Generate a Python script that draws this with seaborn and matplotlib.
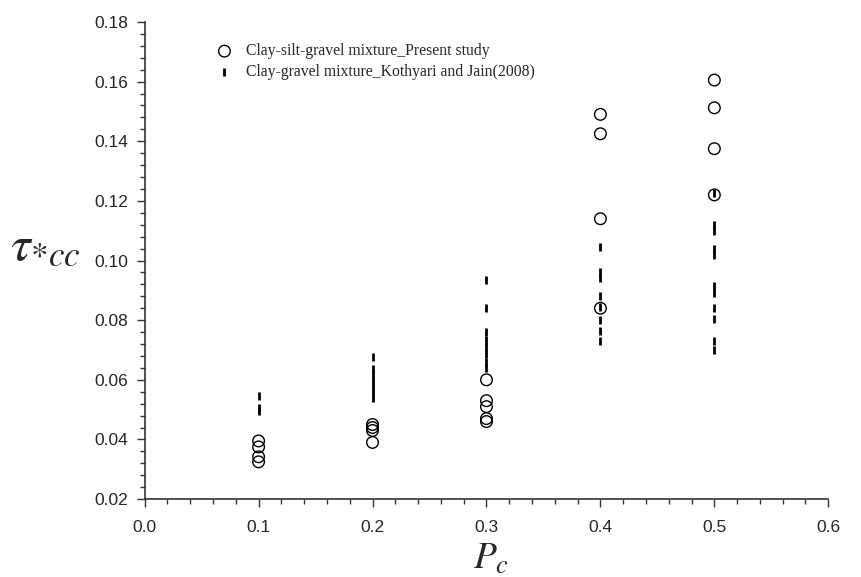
import matplotlib
matplotlib.use("Agg")
import matplotlib.pyplot as plt
import seaborn as sns
import pandas as pd
from matplotlib.ticker import MultipleLocator, FormatStrFormatter

# Critical shear stress of cohesive mixtures versus clay content
present_pc = [0.1, 0.1, 0.1, 0.1,
              0.2, 0.2, 0.2, 0.2,
              0.3, 0.3, 0.3, 0.3, 0.3,
              0.4, 0.4, 0.4, 0.4,
              0.5, 0.5, 0.5, 0.5]
present_tau = [0.0395, 0.0375, 0.0342, 0.0325,
               0.0450, 0.0440, 0.0430, 0.0390,
               0.0600, 0.0530, 0.0510, 0.0470, 0.0460,
               0.1490, 0.1425, 0.1140, 0.0840,
               0.1605, 0.1512, 0.1375, 0.1220]

kj_pc = [0.1, 0.1, 0.1,
         0.2, 0.2, 0.2, 0.2, 0.2, 0.2, 0.2,
         0.3, 0.3, 0.3, 0.3, 0.3, 0.3, 0.3, 0.3,
         0.4, 0.4, 0.4, 0.4, 0.4, 0.4, 0.4, 0.4,
         0.5, 0.5, 0.5, 0.5, 0.5, 0.5, 0.5, 0.5, 0.5, 0.5, 0.5]
kj_tau = [0.0545, 0.0505, 0.0495,
          0.0675, 0.0635, 0.0615, 0.0595, 0.0575, 0.0555, 0.0540,
          0.0935, 0.0840, 0.0760, 0.0735, 0.0710, 0.0685, 0.0660, 0.0640,
          0.1045, 0.0960, 0.0940, 0.0880, 0.0845, 0.0800, 0.0765, 0.0730,
          0.1225, 0.1120, 0.1100, 0.1040, 0.1020, 0.0915, 0.0890, 0.0840,
          0.0805, 0.0730, 0.0700]

present = pd.DataFrame({"Pc": present_pc, "tau": present_tau})
kj = pd.DataFrame({"Pc": kj_pc, "tau": kj_tau})

sns.set_style("ticks")
plt.rcParams["font.family"] = ["Liberation Sans", "DejaVu Sans"]
plt.rcParams["mathtext.fontset"] = "stix"

fig = plt.figure(figsize=(8.61, 5.77), dpi=100)
ax = fig.add_axes([0.168, 0.135, 0.794, 0.827])

sns.scatterplot(data=present, x="Pc", y="tau", ax=ax, marker="o",
                s=70, facecolors="none", edgecolor="black", linewidth=1.0,
                label="Clay-silt-gravel mixture_Present study", zorder=3)
sns.scatterplot(data=kj, x="Pc", y="tau", ax=ax, marker="|",
                s=36, color="black", linewidth=2.0,
                label="Clay-gravel mixture_Kothyari and Jain(2008)", zorder=2)

ax.set_xlim(0.0, 0.6)
ax.set_ylim(0.02, 0.18)
ax.xaxis.set_major_locator(MultipleLocator(0.1))
ax.xaxis.set_minor_locator(MultipleLocator(0.02))
ax.yaxis.set_major_locator(MultipleLocator(0.02))
ax.yaxis.set_minor_locator(MultipleLocator(0.004))
ax.xaxis.set_major_formatter(FormatStrFormatter("%.1f"))
ax.yaxis.set_major_formatter(FormatStrFormatter("%.2f"))
ax.tick_params(which="major", direction="out", length=6, width=1, labelsize=12.5,
               color="#333333")
ax.tick_params(axis="x", which="major", pad=9)
ax.tick_params(axis="y", which="major", pad=6)
ax.tick_params(which="minor", direction="out", length=3.5, width=1, color="#333333")
for s in ("left", "bottom"):
    ax.spines[s].set_color("#333333")
    ax.spines[s].set_linewidth(1.2)
sns.despine(ax=ax)

ax.set_xlabel(r"$P_c$", fontsize=27, labelpad=0)
ax.xaxis.set_label_coords(0.507, -0.088)
ax.set_ylabel(r"$\tau_{*cc}$", fontsize=36, rotation=0, va="center", ha="center")
ax.yaxis.set_label_coords(-0.145, 0.53)

leg = ax.legend(loc="upper left", bbox_to_anchor=(0.08, 0.975), frameon=False,
                prop={"family": "Liberation Serif", "size": 11.3},
                handletextpad=0.4, labelspacing=0.28, borderaxespad=0.2)

fig.savefig("out.png", dpi=100)
